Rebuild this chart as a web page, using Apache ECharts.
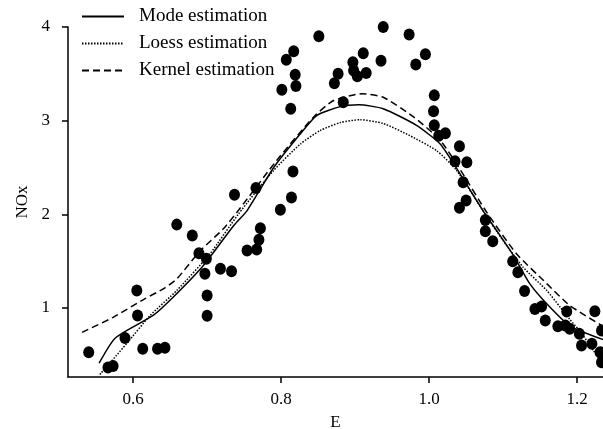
<!DOCTYPE html>
<html>
<head>
<meta charset="utf-8">
<script src="https://cdn.jsdelivr.net/npm/echarts@6/dist/echarts.min.js"></script>
<style>
  html, body { margin: 0; padding: 0; background: #fff; }
  #chart { width: 603px; height: 429px; }
</style>
</head>
<body>
<div id="chart"></div>
<script>
// observed points [E, NOx]
const observed = [
  [0.540, 0.528], [0.566, 0.365], [0.573, 0.38], [0.589, 0.68], [0.605, 1.187],
  [0.606, 0.92], [0.613, 0.564], [0.633, 0.564], [0.643, 0.575], [0.659, 1.89],
  [0.680, 1.774], [0.689, 1.585], [0.699, 1.525], [0.697, 1.365], [0.700, 1.134],
  [0.700, 0.917], [0.718, 1.419], [0.733, 1.393], [0.737, 2.21], [0.754, 1.614],
  [0.767, 1.625], [0.770, 1.728], [0.772, 1.85], [0.766, 2.28], [0.799, 2.05],
  [0.814, 2.18], [0.816, 2.457], [0.801, 3.33], [0.807, 3.65], [0.813, 3.127],
  [0.817, 3.742], [0.819, 3.49], [0.820, 3.37], [0.851, 3.90], [0.872, 3.40],
  [0.877, 3.50], [0.884, 3.197], [0.897, 3.624], [0.898, 3.535], [0.903, 3.475],
  [0.911, 3.72], [0.915, 3.51], [0.935, 3.64], [0.938, 4.0], [0.973, 3.92],
  [0.982, 3.60], [0.995, 3.71], [1.007, 3.27], [1.006, 3.10], [1.007, 2.95],
  [1.013, 2.84], [1.022, 2.866], [1.041, 2.727], [1.035, 2.567], [1.051, 2.556],
  [1.046, 2.343], [1.050, 2.148], [1.041, 2.07], [1.076, 1.94], [1.076, 1.82],
  [1.086, 1.713], [1.113, 1.50], [1.120, 1.382], [1.129, 1.18], [1.143, 0.99],
  [1.152, 1.016], [1.157, 0.867], [1.174, 0.805], [1.184, 0.813], [1.190, 0.778],
  [1.186, 0.963], [1.203, 0.724], [1.206, 0.60], [1.220, 0.618], [1.224, 0.966],
  [1.233, 0.76], [1.233, 0.42], [1.231, 0.528]
]

const modeCurve = [
  [0.554, 0.41], [0.576, 0.68], [0.627, 0.92], [0.654, 1.115], [0.695, 1.454],
  [0.736, 1.88], [0.754, 2.04], [0.790, 2.50], [0.826, 2.86], [0.848, 3.055],
  [0.880, 3.15], [0.905, 3.17], [0.938, 3.127], [0.983, 2.95], [1.015, 2.75],
  [1.042, 2.43], [1.076, 2.0], [1.091, 1.83], [1.114, 1.56], [1.136, 1.26],
  [1.159, 1.045], [1.19, 0.81], [1.236, 0.66]
]

const loessCurve = [
  [0.555, 0.29], [0.591, 0.617], [0.623, 0.92], [0.659, 1.187], [0.704, 1.58],
  [0.742, 2.0], [0.790, 2.47], [0.826, 2.75], [0.853, 2.895], [0.880, 2.98],
  [0.907, 3.01], [0.938, 2.97], [0.974, 2.84], [1.01, 2.68], [1.037, 2.47],
  [1.076, 2.0], [1.1, 1.72], [1.127, 1.436], [1.159, 1.187], [1.177, 1.01],
  [1.19, 0.88], [1.205, 0.74], [1.222, 0.546], [1.236, 0.38]
]

const kernelCurve = [
  [0.531, 0.74], [0.573, 0.90], [0.614, 1.09], [0.643, 1.215], [0.659, 1.31],
  [0.691, 1.614], [0.722, 1.845], [0.745, 2.07], [0.794, 2.575], [0.844, 3.04],
  [0.871, 3.215], [0.909, 3.287], [0.938, 3.25], [0.979, 3.04], [1.015, 2.79],
  [1.045, 2.44], [1.078, 2.02], [1.118, 1.58], [1.159, 1.26], [1.19, 1.027],
  [1.236, 0.80]
]

const xTicks = [0.6, 0.8, 1.0, 1.2]
const yTicks = [1, 2, 3, 4]

const font = 'Liberation Serif'

const chart = echarts.init(document.getElementById('chart'))

function curve(name, data, type) {
  return {
    name: name,
    type: 'line',
    data: data,
    symbol: 'none',
    smooth: 0.2,
    clip: false,
    lineStyle: { color: '#000', width: 1.5, type: type },
    itemStyle: { color: '#000' },
    z: 3
  }
}

chart.setOption({
  animation: false,
  backgroundColor: '#fff',
  textStyle: { fontFamily: font },
  legend: {
    orient: 'vertical',
    left: 81,
    top: 7,
    padding: 0,
    itemWidth: 42,
    itemHeight: 14,
    itemGap: 8,
    itemStyle: { opacity: 0 },
    data: ['Mode estimation', 'Loess estimation', 'Kernel estimation'],
    textStyle: { fontFamily: font, fontSize: 19, color: '#000', padding: [0, 0, 0, 10] }
  },
  grid: { left: 68, right: 0, top: 27, bottom: 52, outerBoundsMode: 'none' },
  xAxis: {
    type: 'value',
    min: 0.512,
    max: 1.235,
    name: 'E',
    nameLocation: 'middle',
    nameGap: 37,
    nameTextStyle: { fontFamily: font, fontSize: 17, color: '#000' },
    axisLine: { onZero: false, lineStyle: { color: '#000', width: 1.5 } },
    axisTick: { show: true, length: 6, customValues: xTicks, lineStyle: { color: '#000', width: 1.5 } },
    axisLabel: {
      customValues: xTicks,
      margin: 14,
      fontFamily: font,
      fontSize: 17,
      color: '#000',
      formatter: v => v.toFixed(1)
    },
    splitLine: { show: false }
  },
  yAxis: {
    type: 'value',
    min: 0.263,
    max: 4,
    name: 'NOx',
    nameLocation: 'middle',
    nameGap: 33,
    nameTextStyle: { fontFamily: font, fontSize: 17, color: '#000' },
    axisLine: { show: true, onZero: false, lineStyle: { color: '#000', width: 1.5 } },
    axisTick: { show: true, length: 6, customValues: yTicks, lineStyle: { color: '#000', width: 1.5 } },
    axisLabel: {
      customValues: yTicks,
      margin: 18,
      fontFamily: font,
      fontSize: 17,
      color: '#000'
    },
    splitLine: { show: false }
  },
  series: [
    {
      name: 'observed',
      type: 'scatter',
      data: observed,
      symbol: 'circle',
      symbolSize: [11, 12],
      clip: false,
      itemStyle: { color: '#000', opacity: 1 },
      z: 2
    },
    curve('Mode estimation', modeCurve, 'solid'),
    curve('Loess estimation', loessCurve, [1.5, 1.5]),
    curve('Kernel estimation', kernelCurve, [7, 4])
  ]
})
</script>
</body>
</html>
